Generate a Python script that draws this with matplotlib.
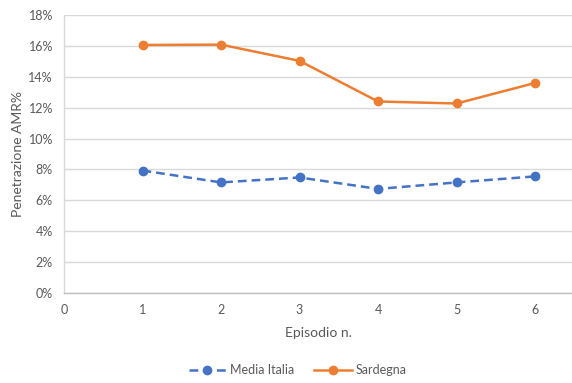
import matplotlib
matplotlib.use("Agg")
import matplotlib.pyplot as plt
from matplotlib.ticker import FuncFormatter, MultipleLocator

plt.rcParams['font.family'] = ['Lato', 'DejaVu Sans']

episodes = [1, 2, 3, 4, 5, 6]
media_italia = [7.93, 7.16, 7.48, 6.74, 7.16, 7.55]
sardegna = [16.06, 16.08, 15.03, 12.40, 12.27, 13.60]

blue = '#4472C4'
orange = '#ED7D31'
text_col = '#595959'
grid_col = '#D9D9D9'

fig = plt.figure(figsize=(5.72, 3.83), dpi=100)
ax = fig.add_axes([64 / 572, 1 - 293 / 383, 1 - 64 / 572, (293 - 15) / 383])

ax.plot(episodes, media_italia, color=blue, linestyle=(0, (3.5, 2)), linewidth=1.8,
        marker='o', markersize=6, label='Media Italia')
ax.plot(episodes, sardegna, color=orange, linestyle='-', linewidth=1.8,
        marker='o', markersize=6, label='Sardegna')

ax.set_xlim(0, 6.47)
ax.set_ylim(0, 18)
ax.yaxis.set_major_locator(MultipleLocator(2))
ax.xaxis.set_major_locator(MultipleLocator(1))
ax.yaxis.set_major_formatter(FuncFormatter(lambda v, p: f"{v:.0f}%"))
ax.xaxis.set_major_formatter(FuncFormatter(lambda v, p: f"{v:.0f}" if v <= 6 else ""))

ax.grid(axis='y', color=grid_col, linewidth=1)
ax.set_axisbelow(True)
for side in ('top', 'right'):
    ax.spines[side].set_visible(False)
ax.spines['left'].set_color(grid_col)
ax.spines['bottom'].set_color('#BFBFBF')
ax.spines['left'].set_linewidth(1)
ax.spines['bottom'].set_linewidth(1)
ax.tick_params(axis='both', length=0, labelsize=9, colors=text_col, pad=8)

ax.set_xlabel('Episodio n.', fontsize=10, color=text_col, labelpad=8)
ax.set_ylabel('Penetrazione AMR%', fontsize=10, color=text_col, labelpad=3)

leg = fig.legend(loc='center', bbox_to_anchor=(0.52, 1 - 370 / 383), ncol=2,
                 frameon=False, fontsize=9, handlelength=3.0, handletextpad=0.3,
                 columnspacing=1.6, labelcolor=text_col)

fig.savefig('out.png', dpi=100)
